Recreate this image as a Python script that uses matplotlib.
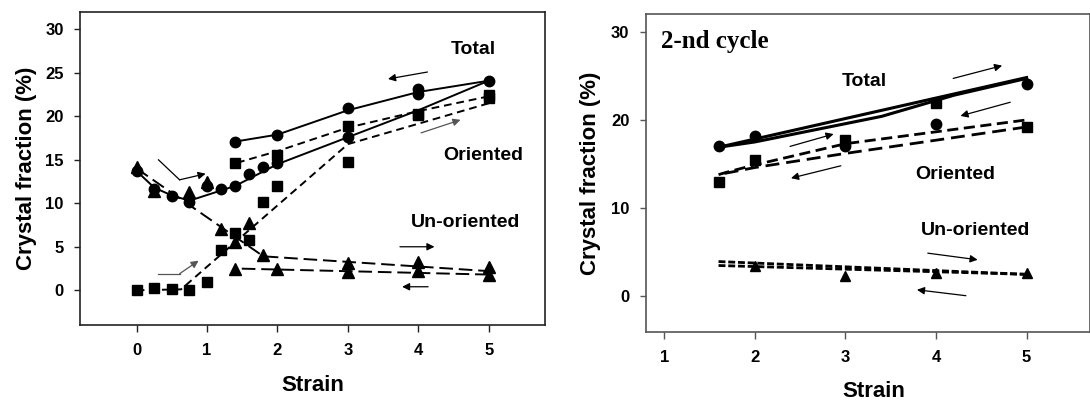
import matplotlib
matplotlib.use("Agg")
import matplotlib.pyplot as plt

plt.rcParams['font.family'] = ['Liberation Sans', 'DejaVu Sans']

# ---------------- Left panel (1st cycle) data ----------------
L_total_x = [0, 0.25, 0.5, 0.75, 1.0, 1.2, 1.4, 1.6, 1.8, 2.0, 3.0, 4.0, 5.0,
             4.0, 3.0, 2.0, 1.4]
L_total_y = [13.7, 11.7, 10.8, 10.2, 12.0, 11.7, 12.0, 13.4, 14.2, 14.6, 17.6, 22.6, 24.1,
             23.1, 21.0, 17.9, 17.1]
L_orient_x = [0, 0.25, 0.5, 0.75, 1.0, 1.2, 1.4, 1.6, 1.8, 2.0, 3.0, 4.0, 5.0,
              5.0, 4.0, 3.0, 2.0, 1.4]
L_orient_y = [0.0, 0.3, 0.1, 0.0, 1.0, 4.6, 6.6, 5.8, 10.1, 12.0, 14.7, 20.1, 22.1,
              22.4, 20.3, 18.9, 15.5, 14.6]
L_unor_x = [0, 0.25, 0.75, 1.0, 1.2, 1.4, 1.6, 1.8, 1.4, 2.0, 3.0, 3.0, 4.0, 4.0, 5.0, 5.0]
L_unor_y = [14.2, 11.4, 11.3, 12.4, 7.1, 5.6, 7.7, 4.0, 2.5, 2.5, 3.1, 2.1, 3.3, 2.2, 2.7, 1.8]

L_total_load_lx = [0, 0.25, 0.5, 0.75, 1.4, 2.0, 3.0, 4.0, 5.0]
L_total_load_ly = [13.7, 11.8, 10.9, 10.3, 12.0, 14.5, 17.6, 20.7, 24.1]
L_total_unl_lx = [5.0, 4.0, 3.0, 2.0, 1.4]
L_total_unl_ly = [24.1, 22.8, 20.7, 17.9, 17.1]
L_orient_load_lx = [0, 0.63, 3.0, 5.0]
L_orient_load_ly = [0.0, 0.1, 16.8, 21.5]
L_orient_unl_lx = [5.0, 4.0, 3.0, 2.0, 1.4]
L_orient_unl_ly = [22.3, 20.6, 18.7, 16.0, 14.6]
L_unor_load_lx = [0, 1.8, 5.0]
L_unor_load_ly = [14.0, 3.9, 2.2]
L_unor_unl_lx = [5.0, 1.4]
L_unor_unl_ly = [1.8, 2.5]

# ---------------- Right panel (2nd cycle) data ----------------
R_total_x = [1.6, 2.0, 3.0, 4.0, 5.0]
R_total_y = [17.0, 18.2, 17.0, 19.5, 24.1]
R_orient_x = [1.6, 2.0, 3.0, 4.0, 5.0]
R_orient_y = [13.0, 15.5, 17.7, 21.9, 19.2]
R_unor_x = [2.0, 3.0, 4.0, 5.0]
R_unor_y = [3.4, 2.3, 2.6, 2.6]

R_total_load_lx = [1.6, 5.0]
R_total_load_ly = [16.9, 24.8]
R_total_unl_lx = [5.0, 4.2, 3.4, 2.0, 1.6]
R_total_unl_ly = [24.7, 22.8, 20.4, 17.5, 16.9]
R_orient_load_lx = [1.6, 1.7, 2.0, 3.0, 5.0]
R_orient_load_ly = [13.8, 14.1, 14.9, 17.3, 20.0]
R_orient_unl_lx = [5.0, 3.0, 2.0, 1.6]
R_orient_unl_ly = [19.2, 16.2, 14.6, 13.8]
R_unor_a_lx = [1.6, 5.0]
R_unor_a_ly = [3.95, 2.5]
R_unor_b_lx = [1.6, 5.0]
R_unor_b_ly = [3.5, 2.5]

fig = plt.figure(figsize=(10.9, 4.01), dpi=100)
axL = fig.add_axes([0.0737, 0.1895, 0.4263, 0.7805])
axR = fig.add_axes([0.5927, 0.1728, 0.4073, 0.7923])

lab_font = dict(fontsize=16, fontweight='bold')
txt_font = dict(fontsize=14, fontweight='bold', ha='center', va='center')


def arrow(ax, x0, y0, x1, y1, color='black'):
    ax.annotate('', xy=(x1, y1), xytext=(x0, y0),
                arrowprops=dict(arrowstyle='-|>', lw=0.9, color=color,
                                mutation_scale=11, shrinkA=0, shrinkB=0))


def style(ax, xlim, xticks, yticks, spine_color):
    ax.set_xlim(*xlim)
    ax.set_ylim(-4, 32)
    ax.set_xticks(xticks)
    ax.set_yticks(yticks)
    for s in ax.spines.values():
        s.set_color(spine_color)
        s.set_linewidth(1.2)
    ax.tick_params(axis='x', direction='out', length=5, width=1, pad=8,
                   labelsize=12, color=spine_color)
    ax.tick_params(axis='y', direction='out', length=4, width=1, pad=8,
                   labelsize=12, color=spine_color)
    for lab in ax.get_xticklabels() + ax.get_yticklabels():
        lab.set_fontweight('bold')
    ax.set_xlabel('Strain', **lab_font)
    ax.set_ylabel('Crystal fraction (%)', **lab_font)


# ---- Left panel ----
ax = axL
ax.plot(L_total_load_lx, L_total_load_ly, '-', color='black', lw=1.4)
ax.plot(L_total_unl_lx, L_total_unl_ly, '-', color='black', lw=1.4)
ax.plot(L_orient_load_lx, L_orient_load_ly, '--', color='black', lw=1.4, dashes=(4, 2.5))
ax.plot(L_orient_unl_lx, L_orient_unl_ly, '--', color='black', lw=1.4, dashes=(4, 2.5))
ax.plot(L_unor_load_lx, L_unor_load_ly, '--', color='black', lw=1.4, dashes=(7, 3))
ax.plot(L_unor_unl_lx, L_unor_unl_ly, '--', color='black', lw=1.4, dashes=(7, 3))
ax.plot(L_unor_x, L_unor_y, '^', color='black', ms=8, ls='none')
ax.plot(L_orient_x, L_orient_y, 's', color='black', ms=7, ls='none')
ax.plot(L_total_x, L_total_y, 'o', color='black', ms=7.5, ls='none')

arrow(ax, 4.13, 25.1, 3.57, 24.3)
arrow(ax, 4.04, 18.1, 4.60, 19.6, color='#555555')
arrow(ax, 3.74, 5.0, 4.23, 5.0)
arrow(ax, 4.14, 0.4, 3.77, 0.4)
ax.plot([0.31, 0.61], [15.0, 12.7], '-', color='black', lw=0.9)
arrow(ax, 0.61, 12.7, 0.98, 13.4)
ax.plot([0.31, 0.61], [1.9, 1.9], '-', color='#555555', lw=0.9)
arrow(ax, 0.61, 1.9, 0.88, 3.4, color='#555555')

ax.text(4.78, 27.7, 'Total', **txt_font)
ax.text(4.93, 15.5, 'Oriented', **txt_font)
ax.text(4.67, 7.75, 'Un-oriented', **txt_font)
style(ax, (-0.8, 5.8), [0, 1, 2, 3, 4, 5], [0, 5, 10, 15, 20, 25, 30], '#222222')
ax.yaxis.set_label_coords(-0.093, 0.5)
ax.xaxis.set_label_coords(0.5008, -0.16)

# ---- Right panel ----
ax = axR
ax.plot(R_total_load_lx, R_total_load_ly, '-', color='black', lw=2.2)
ax.plot(R_total_unl_lx, R_total_unl_ly, '-', color='black', lw=2.2)
ax.plot(R_orient_load_lx, R_orient_load_ly, '--', color='black', lw=2.0, dashes=(4, 2))
ax.plot(R_orient_unl_lx, R_orient_unl_ly, '--', color='black', lw=2.0, dashes=(5, 2.5))
ax.plot(R_unor_a_lx, R_unor_a_ly, '--', color='black', lw=2.0, dashes=(2.5, 1))
ax.plot(R_unor_b_lx, R_unor_b_ly, '--', color='black', lw=2.0, dashes=(2.5, 1))
ax.plot(R_unor_x, R_unor_y, '^', color='black', ms=7, ls='none')
ax.plot(R_orient_x, R_orient_y, 's', color='black', ms=7, ls='none')
ax.plot(R_total_x, R_total_y, 'o', color='black', ms=7.5, ls='none')

arrow(ax, 4.19, 24.7, 4.73, 26.15)
arrow(ax, 4.82, 22.0, 4.27, 20.45)
arrow(ax, 2.39, 17.0, 2.87, 18.4)
arrow(ax, 2.95, 14.8, 2.40, 13.4)
arrow(ax, 3.91, 4.9, 4.46, 4.15)
arrow(ax, 4.33, 0.08, 3.79, 0.75)

ax.text(3.21, 24.3, 'Total', **txt_font)
ax.text(4.21, 13.8, 'Oriented', **txt_font)
ax.text(4.44, 7.5, 'Un-oriented', **txt_font)
ax.text(0.96, 28.2, '2-nd cycle', fontsize=18, fontweight='bold',
        family=['Liberation Serif', 'DejaVu Serif'], ha='left', va='baseline')
style(ax, (0.8, 5.7), [1, 2, 3, 4, 5], [0, 10, 20, 30], '#555555')
ax.yaxis.set_label_coords(-0.102, 0.5)
ax.xaxis.set_label_coords(0.514, -0.155)

fig.savefig('out.png', dpi=100)
